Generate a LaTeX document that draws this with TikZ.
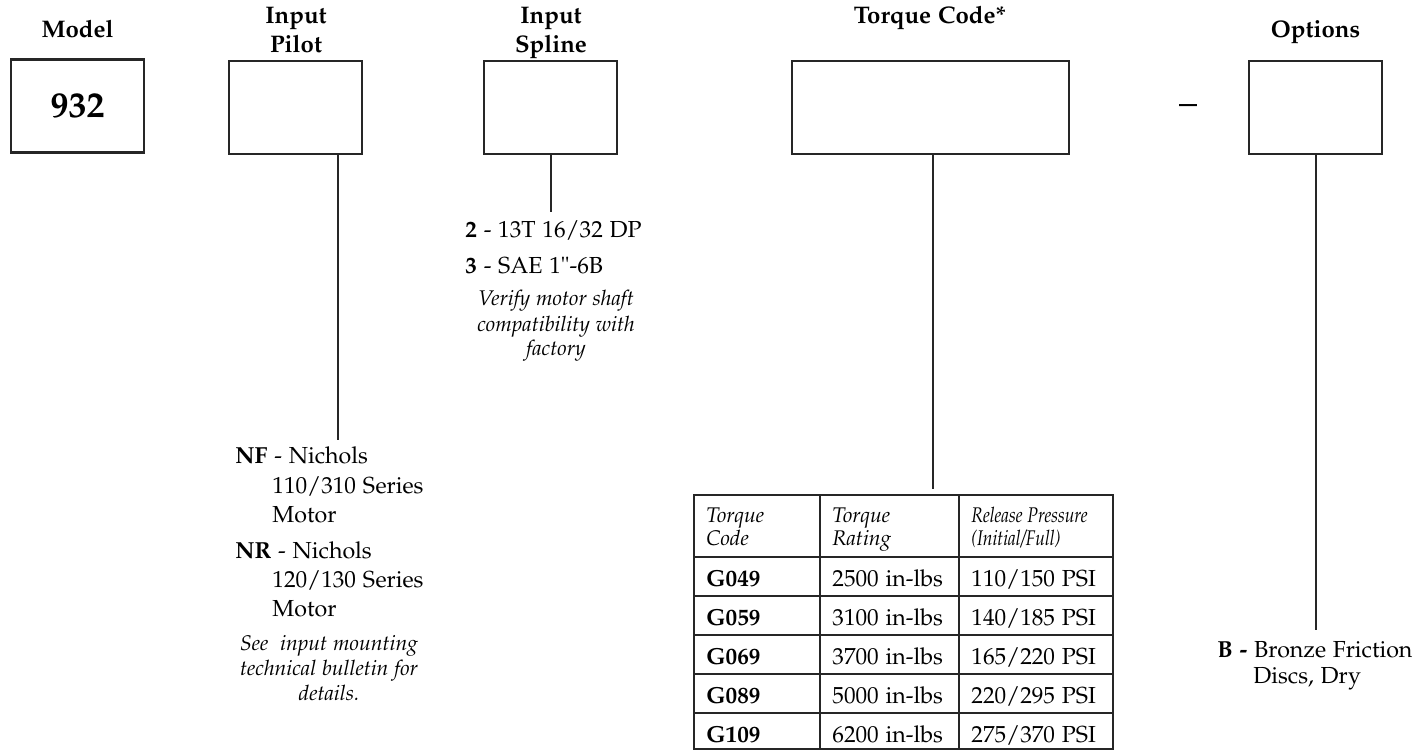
\documentclass[tikz,border=0pt]{standalone}
\usepackage[T1]{fontenc}
\usepackage[sc]{mathpazo}
\begin{document}
\begin{tikzpicture}[x=0.5pt,y=-0.5pt,
  box/.style={draw=black!85,line width=1.1pt,minimum width=66.5pt,minimum height=46.5pt,inner sep=0pt},
  head/.style={font=\fontsize{12}{14.5}\selectfont\bfseries,align=center,anchor=base,inner sep=0pt},
  body/.style={font=\fontsize{11.6}{14}\selectfont,anchor=base west,inner sep=0pt},
  note/.style={font=\fontsize{10.6}{12.5}\selectfont\itshape,anchor=base,inner sep=0pt},
  thead/.style={font=\fontsize{10.6}{11.5}\selectfont\itshape,anchor=base west,inner sep=0pt},
  conn/.style={draw=black!85,line width=1.2pt},
  tline/.style={draw=black!85,line width=1pt}]
\useasboundingbox (0,0) rectangle (1416,751);
% headings
\node[head] (hmodel) at (77.5,37) {Model};
\node[head] (hpilot1) at (296,23) {Input};
\node[head] (hpilot2) at (296,52) {Pilot};
\node[head] (hspl1) at (551,23) {Input};
\node[head] (hspl2) at (551,52) {Spline};
\node[head] (htq) at (930,23) {Torque Code*};
\node[head] (hopt) at (1315.5,37) {Options};
% boxes
\node[box] (model) at (77.5,106) {\fontsize{18}{20}\selectfont\bfseries 932};
\node[box] (pilot) at (295.5,107.5) {};
\node[box] (spline) at (550.5,107.5) {};
\node[box,minimum width=138.5pt] (torque) at (930.5,107.5) {};
\node[box] (opt) at (1315.5,107.5) {};
\node[anchor=base,inner sep=0pt,font=\fontsize{18}{20}\selectfont] (dash) at (1188,114) {--};
% connector ends
\coordinate (pend) at (338,440);
\coordinate (send) at (551,212);
\coordinate (tend) at (933,489);
\coordinate (oend) at (1316,630);
\draw[conn] (pend |- pilot.south) -- (pend);
\draw[conn] (send |- spline.south) -- (send);
\draw[conn] (tend |- torque.south) -- (tend);
\draw[conn] (oend |- opt.south) -- (oend);
% spline text
\node[body] (s2) at (465,237) {\textbf{2} - 13T 16/32 DP};
\node[body] (s3) at (465,273) {\textbf{3} - SAE 1"-6B};
\node[note] (sn1) at (556,305) {Verify motor shaft};
\node[note] (sn2) at (556,331) {compatibility with};
\node[note] (sn3) at (556,355) {factory};
% pilot text
\node[body] (nf1) at (235,463) {\textbf{NF} - Nichols};
\node[body] (nf2) at (272,493) {110/310 Series};
\node[body] (nf3) at (272,522) {Motor};
\node[body] (nr1) at (235,558) {\textbf{NR} - Nichols};
\node[body] (nr2) at (272,587) {120/130 Series};
\node[body] (nr3) at (272,616) {Motor};
\node[note] (pn1) at (329,650) {See\ \ input mounting};
\node[note] (pn2) at (329,675) {technical bulletin for};
\node[note] (pn3) at (329,700) {details.};
% options text
\node[body] (b1) at (1217,657) {\textbf{B -} Bronze Friction};
\node[body] (b2) at (1253,683) {Discs, Dry};
% table
\draw[tline] (694,495) rectangle (1113,749);
\foreach \yy in {557,596,635,674,713} \draw[tline] (694,\yy) -- (1113,\yy);
\foreach \xx in {820,959} \draw[tline] (\xx,495) -- (\xx,749);
\node[thead] (th1a) at (706,522) {Torque};
\node[thead] (th1b) at (706,545) {Code};
\node[thead] (th2a) at (832,522) {Torque};
\node[thead] (th2b) at (832,545) {Rating};
\node[thead] (th3a) at (971,522) {\scalebox{0.82}[1]{Release Pressure}};
\node[thead] (th3b) at (971,545) {\scalebox{0.82}[1]{(Initial/Full)}};
\node[body] (r1a) at (706,586) {\textbf{G049}};
\node[body] (r1b) at (832,586) {2500 in-lbs};
\node[body] (r1c) at (971,586) {110/150 PSI};
\node[body] (r2a) at (706,625) {\textbf{G059}};
\node[body] (r2b) at (832,625) {3100 in-lbs};
\node[body] (r2c) at (971,625) {140/185 PSI};
\node[body] (r3a) at (706,664) {\textbf{G069}};
\node[body] (r3b) at (832,664) {3700 in-lbs};
\node[body] (r3c) at (971,664) {165/220 PSI};
\node[body] (r4a) at (706,703) {\textbf{G089}};
\node[body] (r4b) at (832,703) {5000 in-lbs};
\node[body] (r4c) at (971,703) {220/295 PSI};
\node[body] (r5a) at (706,742) {\textbf{G109}};
\node[body] (r5b) at (832,742) {6200 in-lbs};
\node[body] (r5c) at (971,742) {275/370 PSI};
\end{tikzpicture}
\end{document}
